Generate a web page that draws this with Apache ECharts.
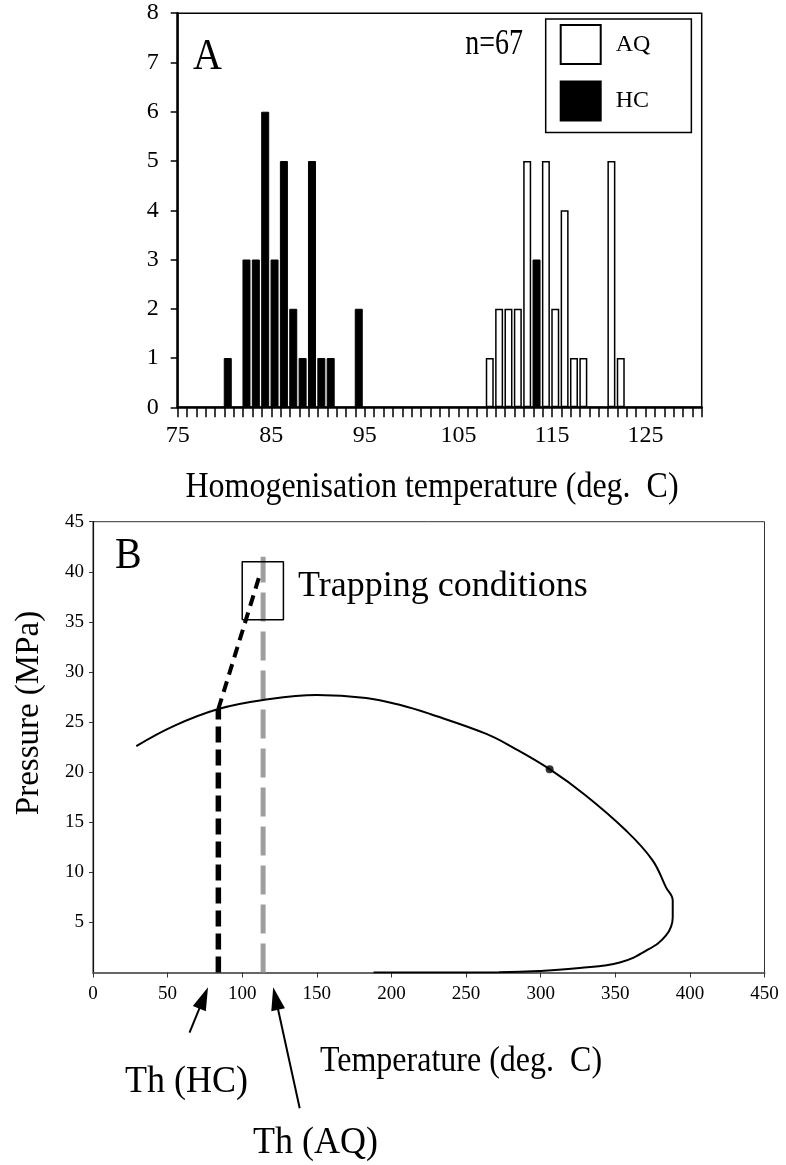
<!DOCTYPE html>
<html>
<head>
<meta charset="utf-8">
<script src="https://cdn.jsdelivr.net/npm/echarts@6/dist/echarts.min.js"></script>
<style>
  html, body { margin: 0; padding: 0; background: #fff; }
  #chart { width: 786px; height: 1165px; }
</style>
</head>
<body>
<div id="chart"></div>
<script>
// A: homogenisation temperature histogram (bin lower edge in deg C, count)
const aqBins = [108, 109, 110, 111, 112, 114, 115, 116, 117, 118, 121, 122];
const aqCounts = [1, 2, 2, 2, 5, 5, 2, 4, 1, 1, 5, 1];
const hcBins = [80, 82, 83, 84, 85, 86, 87, 88, 89, 90, 91, 94, 113];
const hcCounts = [1, 3, 3, 6, 3, 5, 2, 1, 5, 1, 1, 2, 3];
const histLabels = [75, 85, 95, 105, 115, 125];

// B: P-T diagram (temperature deg C, pressure MPa)
const curveT = [29, 54, 84, 114, 150, 183, 206, 226, 264, 281, 306, 330, 357, 375, 384, 388.5, 388.5, 384, 371, 353, 326, 299, 272, 230, 188];
const curveP = [22.6, 24.6, 26.3, 27.2, 27.7, 27.4, 26.7, 25.8, 23.8, 22.5, 20.3, 17.7, 14.2, 11.2, 8.5, 7.2, 5.5, 3.7, 2.2, 1.0, 0.44, 0.15, 0.03, 0, 0];
const critPoint = [306, 20.3];
const thHC = 84, thHCMeet = 26.3;
const trapPoint = [112.4, 40];
const thAQ = 114, thAQTop = 41.5;
const trapBoxT = [100, 127.6];
const trapBoxP = [35.2, 41];

const SERIF = '"Liberation Serif", "Times New Roman", serif';
const binOffset = 0.35;

const chart = echarts.init(document.getElementById('chart'));

function txt(text, x, y, size, opt) {
  opt = opt || {};
  const align = opt.align || 'left';
  return {
    type: 'text', x: x, y: y, rotation: opt.rotation || 0,
    scaleY: opt.scaleY || 1, silent: true,
    style: {
      text: text, x: 0, y: 0, fill: '#000',
      font: size + 'px ' + SERIF,
      align: align, textAlign: align,
      verticalAlign: 'middle', textVerticalAlign: 'middle'
    }
  };
}

function arrow(tail, tip) {
  const dx = tip[0] - tail[0], dy = tip[1] - tail[1];
  const len = Math.hypot(dx, dy);
  const ux = dx / len, uy = dy / len;
  const hl = 23, hw = 7;
  const bx = tip[0] - ux * hl, by = tip[1] - uy * hl;
  return [
    { type: 'line', silent: true,
      shape: { x1: tail[0], y1: tail[1], x2: bx + ux * 3, y2: by + uy * 3 },
      style: { stroke: '#000', lineWidth: 2 } },
    { type: 'polygon', silent: true,
      shape: { points: [tip, [bx - uy * hw, by + ux * hw], [bx + uy * hw, by - ux * hw]] },
      style: { fill: '#000' } }
  ];
}

chart.setOption({
  animation: false,
  backgroundColor: '#fff',
  grid: [
    { left: 177.7, top: 13.2, width: 524, height: 394.1, show: true, borderColor: '#000', borderWidth: 1.5 },
    { left: 93, top: 521.7, width: 671.5, height: 450.8, show: true, borderColor: '#333', borderWidth: 1 }
  ],
  legend: {
    data: ['AQ', 'HC'],
    orient: 'vertical',
    left: 545.7, top: 19,
    padding: [5, 41, 11, 14],
    itemGap: 15.6,
    itemWidth: 40, itemHeight: 39,
    icon: 'rect',
    borderColor: '#000', borderWidth: 1.5,
    selectedMode: false,
    textStyle: { color: '#000', fontSize: 24, fontFamily: SERIF, padding: [0, 0, 0, 10] }
  },
  xAxis: [
    {
      gridIndex: 0, type: 'value', min: 75, max: 131, interval: 1,
      axisLine: { lineStyle: { color: '#000', width: 2.5 } },
      axisTick: { length: 10, lineStyle: { color: '#000', width: 1.5 } },
      axisLabel: {
        color: '#000', fontSize: 24, fontFamily: SERIF, margin: 16,
        formatter: v => histLabels.indexOf(Math.round(v)) >= 0 ? String(Math.round(v)) : ''
      },
      splitLine: { show: false }
    },
    {
      gridIndex: 1, type: 'value', min: 0, max: 450, interval: 50,
      axisLine: { lineStyle: { color: '#666', width: 2 } },
      axisTick: { length: 5, lineStyle: { color: '#333' } },
      axisLabel: { color: '#000', fontSize: 19, fontFamily: SERIF, margin: 12 },
      splitLine: { show: false }
    }
  ],
  yAxis: [
    {
      gridIndex: 0, type: 'value', min: 0, max: 8, interval: 1,
      axisLine: { show: true, lineStyle: { color: '#000', width: 2.5 } },
      axisTick: { show: true, length: 7, lineStyle: { color: '#000', width: 1.5 } },
      axisLabel: { color: '#000', fontSize: 24, fontFamily: SERIF, margin: 19 },
      splitLine: { show: false }
    },
    {
      gridIndex: 1, type: 'value', min: 0, max: 45, interval: 5,
      axisLine: { show: true, lineStyle: { color: '#111', width: 1.2 } },
      axisTick: { show: true, length: 4, lineStyle: { color: '#333' } },
      axisLabel: { showMinLabel: false, color: '#000', fontSize: 19, fontFamily: SERIF, margin: 9 },
      splitLine: { show: false }
    }
  ],
  series: [
    {
      name: 'AQ', type: 'bar', xAxisIndex: 0, yAxisIndex: 0,
      barWidth: 8, barGap: '-100%',
      data: aqBins.map((b, i) => [b + binOffset, aqCounts[i]]),
      itemStyle: { color: '#fff', borderColor: '#000', borderWidth: 1.5 }
    },
    {
      name: 'HC', type: 'bar', xAxisIndex: 0, yAxisIndex: 0,
      barWidth: 8, barGap: '-100%', z: 3,
      data: hcBins.map((b, i) => [b + binOffset, hcCounts[i]]),
      itemStyle: { color: '#000', borderColor: '#000', borderWidth: 1 }
    },
    {
      name: 'phase', type: 'line', xAxisIndex: 1, yAxisIndex: 1,
      smooth: 0.4, symbol: 'none',
      data: curveT.map((t, i) => [t, curveP[i]]),
      lineStyle: { color: '#000', width: 2 }, z: 4
    },
    {
      name: 'crit', type: 'scatter', xAxisIndex: 1, yAxisIndex: 1,
      symbolSize: 8, data: [critPoint], itemStyle: { color: '#000' }, z: 5
    },
    {
      name: 'thAQ', type: 'line', xAxisIndex: 1, yAxisIndex: 1, symbol: 'none',
      data: [[thAQ, 0], [thAQ, thAQTop]],
      lineStyle: { color: '#9e9e9e', width: 5, type: [29, 10], cap: 'butt' }, z: 2
    },
    {
      name: 'thHC', type: 'line', xAxisIndex: 1, yAxisIndex: 1, symbol: 'none',
      data: [[thHC, 0], [thHC, thHCMeet]],
      lineStyle: { color: '#000', width: 5.5, type: [16, 7], cap: 'butt' }, z: 3
    },
    {
      name: 'isochore', type: 'line', xAxisIndex: 1, yAxisIndex: 1, symbol: 'none',
      data: [[thHC, thHCMeet], trapPoint],
      lineStyle: { color: '#000', width: 4, type: [11, 7], cap: 'butt' }, z: 3
    },
    {
      name: 'trapBox', type: 'line', xAxisIndex: 1, yAxisIndex: 1, symbol: 'none',
      data: [[trapBoxT[0], trapBoxP[0]], [trapBoxT[1], trapBoxP[0]], [trapBoxT[1], trapBoxP[1]],
             [trapBoxT[0], trapBoxP[1]], [trapBoxT[0], trapBoxP[0]]],
      lineStyle: { color: '#000', width: 1.5 }, z: 3
    }
  ],
  graphic: [
    txt('A', 193, 57, 40, { scaleY: 1.1 }),
    txt('n=67', 523, 45, 28, { align: 'right', scaleY: 1.25 }),
    txt('Homogenisation temperature (deg.  C)', 432, 488, 32, { align: 'center', scaleY: 1.1 }),
    txt('B', 115, 556, 40, { scaleY: 1.1 }),
    txt('Trapping conditions', 298, 587, 36),
    txt('Pressure (MPa)', 29, 713, 33, { align: 'center', rotation: Math.PI / 2 }),
    txt('Temperature (deg.  C)', 461, 1062, 32, { align: 'center', scaleY: 1.1 }),
    txt('Th (HC)', 125, 1082, 36, { scaleY: 1.05 }),
    txt('Th (AQ)', 253, 1143, 36, { scaleY: 1.05 })
  ].concat(arrow([189.5, 1032.7], [208, 987.3]), arrow([299.7, 1108.3], [273.2, 987.3]))
});
</script>
</body>
</html>
